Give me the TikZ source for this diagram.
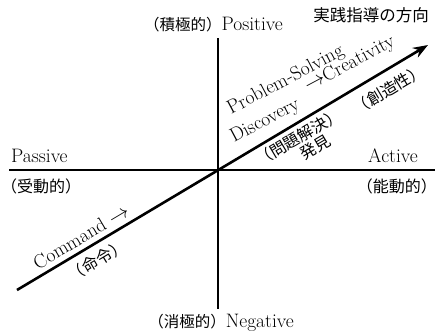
\documentclass[tikz,border=0pt]{standalone}
\usepackage{fontspec}
\newfontfamily\jpfont{Noto Sans CJK JP}
\usetikzlibrary{arrows.meta}
\begin{document}
\begin{tikzpicture}[x=1pt,y=-1pt,
  axisline/.style={line width=2pt},
  dirarrow/.style={line width=2.6pt,-{Stealth[length=15pt,width=11pt]}},
  en/.style={font=\fontsize{19.5}{23}\selectfont,inner sep=0pt},
  ja/.style={font=\fontsize{16}{18}\selectfont\jpfont,inner sep=0pt},
  rot/.style={rotate=30.74},
  tilt/.style={rotate=28}]
\useasboundingbox (0,0) rectangle (438,335);
\coordinate (O) at (218,170);
\coordinate (top) at (218,38);
\coordinate (bot) at (218,309);
\coordinate (lft) at (9,170);
\coordinate (rgt) at (435,170);
\coordinate (tail) at (17,290);
\coordinate (head) at (428,45);
\draw[axisline] (top) -- (bot);
\draw[axisline] (lft) -- (rgt);
\draw[dirarrow] (tail) -- (head);
\node[en,anchor=base west] (pas) at (11,162) {Passive};
\node[ja,anchor=west] (pasj) at (1,186) {（受動的）};
\node[en,anchor=base east] (act) at (418,162) {Active};
\node[ja,anchor=east] (actj) at (437,186) {（能動的）};
\node[en,anchor=base east] (pos) at (283,30) {{\fontsize{15.5}{18}\selectfont\jpfont（積極的）}Positive};
\node[en,anchor=base east] (neg) at (294,327) {{\fontsize{15.5}{18}\selectfont\jpfont（消極的）}Negative};
\node[ja,font=\fontsize{16.5}{19}\selectfont\jpfont,anchor=east] (title) at (429,15) {実践指導の方向};
\node[en,tilt,anchor=base west] (ps) at (231,115) {Problem-Solving};
\node[en,tilt,anchor=base west] (dc) at (234,143) {Discovery};
\node[en,tilt,anchor=base west] (cr) at (308,92) {$\rightarrow$Creativity};
\begin{scope}[shift={(O)},rotate=30.74,x=1pt,y=1pt]
\node[ja,rot] (sz) at (188,-18) {（創造性）};
\node[ja,rot] (mk) at (86,-13) {（問題解決）};
\node[ja,rot] (hk) at (95,-30) {発見};
\node[en,rot] (cm) at (-152,12.5) {Command $\rightarrow$};
\node[ja,rot] (mr) at (-150,-16) {（命令）};
\end{scope}
\end{tikzpicture}
\end{document}
